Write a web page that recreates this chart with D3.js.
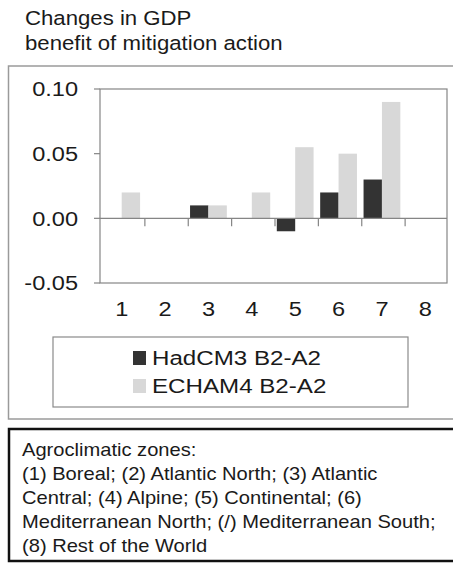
<!DOCTYPE html>
<html><head><meta charset="utf-8">
<script src="https://cdn.jsdelivr.net/npm/d3@7"></script>
<style>body{margin:0;background:#fff}svg{display:block}text{font-family:"Liberation Sans",Arial,sans-serif;fill:#1a1a1a}</style>
</head><body>
<script>
const categories = ["1","2","3","4","5","6","7","8"];
const seriesNames = ["HadCM3 B2-A2","ECHAM4 B2-A2"];
const hadcm3 = [0, 0, 0.01, 0, -0.01, 0.02, 0.03, 0];
const echam4 = [0.02, 0, 0.01, 0.02, 0.055, 0.05, 0.09, 0];
const yTicks = [-0.05, 0.00, 0.05, 0.10];
const titleLines = ["Changes in GDP","benefit of mitigation action"];
const noteLines = ["Agroclimatic zones:","(1) Boreal; (2) Atlantic North; (3) Atlantic","Central; (4) Alpine; (5) Continental; (6)","Mediterranean North; (/) Mediterranean South;","(8) Rest of the World"];
const colors = ["#333333","#d8d8d8"];
const SX = 1.15;

const W=453,H=563;
const svg=d3.select("body").append("svg").attr("width",W).attr("height",H);

function txt(x,y,s,size,anchor){
  const g=svg.append("g").attr("transform",`translate(${x},${y}) scale(${SX},1)`);
  g.append("text").attr("text-anchor",anchor||"start").attr("font-size",size).text(s);
  return g;
}

titleLines.forEach((t,i)=>txt(25,25+i*24.5,t,19.3));

// outer chart box
svg.append("rect").attr("x",8.5).attr("y",66).attr("width",460).attr("height",353)
  .attr("fill","none").attr("stroke","#9a9a9a").attr("stroke-width",1.5);

const plot={l:100,r:447,t:89,b:283};
const y=d3.scaleLinear().domain([-0.05,0.10]).range([plot.b,plot.t]);
const x0=d3.scaleBand().domain(categories).range([plot.l,plot.r]).padding(0);
const x1=d3.scaleBand().domain(seriesNames).range([3.3,x0.bandwidth()-3.3]).padding(0);

// frame
svg.append("rect").attr("x",plot.l).attr("y",plot.t).attr("width",plot.r-plot.l).attr("height",plot.b-plot.t)
  .attr("fill","none").attr("stroke","#858585").attr("stroke-width",1.2);

// y axis ticks + labels
const fmt=v=>d3.format(".2f")(v).replace("\u2212","-");
yTicks.forEach(v=>{
  svg.append("line").attr("x1",plot.l-6).attr("x2",plot.l).attr("y1",y(v)).attr("y2",y(v)).attr("stroke","#858585").attr("stroke-width",1.2);
  txt(78,y(v)+7.3,fmt(v),20.5,"end");
});

// bars
const data=[hadcm3,echam4];
data.forEach((arr,si)=>{
  svg.append("g").selectAll("rect").data(arr).join("rect")
    .attr("x",(d,i)=>x0(categories[i])+x1(seriesNames[si]))
    .attr("width",x1.bandwidth())
    .attr("y",d=>y(Math.max(0,d)))
    .attr("height",d=>Math.abs(y(d)-y(0)))
    .attr("fill",colors[si]);
});

// zero line
svg.append("line").attr("x1",plot.l).attr("x2",plot.r).attr("y1",y(0)).attr("y2",y(0)).attr("stroke","#858585").attr("stroke-width",1.2);
// x ticks at interior band boundaries
categories.slice(1).forEach(c=>{
  svg.append("line").attr("x1",x0(c)+1.5).attr("x2",x0(c)+1.5).attr("y1",y(0)).attr("y2",y(0)+8).attr("stroke","#858585").attr("stroke-width",1.2);
});
categories.forEach(c=>txt(x0(c)+x0.bandwidth()/2,316,c,20.5,"middle"));

// legend
svg.append("rect").attr("x",53).attr("y",337).attr("width",355).attr("height",70)
  .attr("fill","none").attr("stroke","#8a8a8a").attr("stroke-width",1.2);
seriesNames.forEach((s,i)=>{
  const yy=365+i*28;
  svg.append("rect").attr("x",133).attr("y",yy-14).attr("width",13).attr("height",14).attr("fill",colors[i]);
  txt(152,yy,s,21);
});

// note box
svg.append("rect").attr("x",9).attr("y",429).attr("width",460).attr("height",132)
  .attr("fill","none").attr("stroke","#111").attr("stroke-width",2.5);
noteLines.forEach((t,i)=>txt(22,456+i*24,t,17.5));
</script>
</body></html>
